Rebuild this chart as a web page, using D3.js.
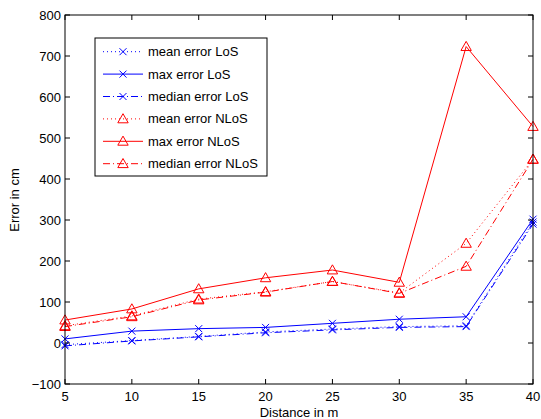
<!DOCTYPE html>
<html>
<head>
<meta charset="utf-8">
<script src="https://cdn.jsdelivr.net/npm/d3@7"></script>
<style>
body { margin: 0; background: white; }
text { font-family: "Liberation Sans", Arial, sans-serif; font-size: 13px; }
</style>
</head>
<body>
<div id="chart"></div>
<script>
// data
var distance = [5, 10, 15, 20, 25, 30, 35, 40]
var meanLoS = [-4, 6, 16, 27, 34, 40, 42, 295]
var maxLoS = [10, 29, 35, 38, 48, 58, 64, 302]
var medianLoS = [-7, 5, 15, 25, 32, 38, 40, 290]
var meanNLoS = [42, 66, 107, 125, 150, 122, 243, 448]
var maxNLoS = [56, 83, 132, 159, 178, 148, 723, 528]
var medianNLoS = [40, 64, 105, 124, 150, 121, 187, 448]
var yTicks = [-100, 0, 100, 200, 300, 400, 500, 600, 700, 800]
var xTicks = [5, 10, 15, 20, 25, 30, 35, 40]

var margin = {top: 15, right: 8, bottom: 35, left: 65}
var width = 541 - margin.left - margin.right
var height = 419 - margin.top - margin.bottom

var svg = d3.select("#chart")
    .append("svg")
    .attr("width", 541)
    .attr("height", 419)
    .append("g")
    .attr("transform", "translate(" + margin.left + "," + margin.top + ")")

var x = d3.scaleLinear().domain([5, 40]).range([0, width])
var y = d3.scaleLinear().domain([-100, 800]).range([height, 0])

// series, with their styles
var series = [
    {name: "mean error LoS", values: meanLoS, color: "#0000ff", dash: "1,3", marker: "x"},
    {name: "max error LoS", values: maxLoS, color: "#0000ff", dash: null, marker: "x"},
    {name: "median error LoS", values: medianLoS, color: "#0000ff", dash: "7,3,1,3", marker: "x"},
    {name: "mean error NLoS", values: meanNLoS, color: "#ff0000", dash: "1,3", marker: "tri"},
    {name: "max error NLoS", values: maxNLoS, color: "#ff0000", dash: null, marker: "tri"},
    {name: "median error NLoS", values: medianNLoS, color: "#ff0000", dash: "7,3,1,3", marker: "tri"}
]

function drawMarker(g, type, cx, cy, color) {
    if (type == "x") {
        var s = 3.5
        g.append("path")
            .attr("d", "M" + (cx - s) + "," + (cy - s) + "L" + (cx + s) + "," + (cy + s) +
                "M" + (cx - s) + "," + (cy + s) + "L" + (cx + s) + "," + (cy - s))
            .attr("stroke", color).attr("stroke-width", 1).attr("fill", "none")
    } else {
        var r = 5.2
        g.append("path")
            .attr("d", "M" + cx + "," + (cy - r) + "L" + (cx + r) + "," + (cy + r * 0.75) +
                "L" + (cx - r) + "," + (cy + r * 0.75) + "Z")
            .attr("stroke", color).attr("stroke-width", 1).attr("fill", "none")
    }
}

var line = d3.line()
    .x(function(d, i) { return x(distance[i]) })
    .y(function(d) { return y(d) })

series.forEach(function(s) {
    svg.append("path")
        .datum(s.values)
        .attr("fill", "none")
        .attr("stroke", s.color)
        .attr("stroke-width", 1)
        .attr("stroke-dasharray", s.dash)
        .attr("d", line)
    s.values.forEach(function(v, i) {
        drawMarker(svg, s.marker, x(distance[i]), y(v), s.color)
    })
})

// axes box, ticks point inward like matlab
svg.append("rect")
    .attr("x", 0).attr("y", 0)
    .attr("width", width).attr("height", height)
    .attr("fill", "none").attr("stroke", "black").attr("stroke-width", 1)

var tk = 5
xTicks.forEach(function(t) {
    svg.append("line").attr("x1", x(t)).attr("x2", x(t)).attr("y1", height).attr("y2", height - tk).attr("stroke", "black")
    svg.append("line").attr("x1", x(t)).attr("x2", x(t)).attr("y1", 0).attr("y2", tk).attr("stroke", "black")
    svg.append("text")
        .attr("x", x(t)).attr("y", height + 17)
        .attr("text-anchor", "middle")
        .text(t)
})
yTicks.forEach(function(t) {
    svg.append("line").attr("x1", 0).attr("x2", tk).attr("y1", y(t)).attr("y2", y(t)).attr("stroke", "black")
    svg.append("line").attr("x1", width).attr("x2", width - tk).attr("y1", y(t)).attr("y2", y(t)).attr("stroke", "black")
    svg.append("text")
        .attr("x", -4).attr("y", y(t) + 4.5)
        .attr("text-anchor", "end")
        .text(t < 0 ? "\u2212" + (-t) : t)
})

// axis labels
svg.append("text")
    .attr("text-anchor", "middle")
    .attr("x", width / 2)
    .attr("y", height + 33)
    .text("Distance in m")
svg.append("text")
    .attr("text-anchor", "middle")
    .attr("transform", "translate(" + (-46) + "," + (200 - margin.top) + ") rotate(-90)")
    .text("Error in cm")

// legend
var leg = svg.append("g").attr("transform", "translate(" + (95 - margin.left) + "," + (38 - margin.top) + ")")
leg.append("rect")
    .attr("x", 0).attr("y", 0)
    .attr("width", 172).attr("height", 138)
    .attr("fill", "white").attr("stroke", "black").attr("stroke-width", 1)
series.forEach(function(s, i) {
    var ly = 13.7 + i * 22.4
    leg.append("line")
        .attr("x1", 8).attr("x2", 48)
        .attr("y1", ly).attr("y2", ly)
        .attr("stroke", s.color).attr("stroke-width", 1)
        .attr("stroke-dasharray", s.dash)
    drawMarker(leg, s.marker, 28, ly, s.color)
    leg.append("text")
        .attr("x", 53).attr("y", ly + 4.5)
        .text(s.name)
})
</script>
</body>
</html>
